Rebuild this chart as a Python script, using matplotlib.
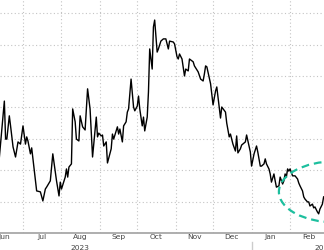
#!/usr/bin/env python3

import matplotlib
matplotlib.use('Agg')
import matplotlib.dates as mdates
import matplotlib.pyplot as plt
import matplotlib.transforms as transforms
import pandas as pd
from matplotlib.patches import Ellipse

START = pd.Timestamp('2023-06-12')

# trading days as offsets from START, with the traced level of the series
days = [0, 4, 5, 6, 8, 9, 11, 13, 15, 17, 19, 21, 22, 23, 25, 26, 28, 30, 33, 35,
        37, 38, 41, 43, 45, 46, 48, 49, 50, 53, 54, 55, 56, 58, 59, 61, 62, 64, 65, 67,
        69, 71, 73, 75, 78, 79, 80, 82, 83, 84, 86, 87, 90, 91, 92, 95, 96, 97, 99, 100,
        102, 103, 104, 106, 108, 109, 111, 112, 113, 115, 116, 117, 119, 120, 121, 123, 124, 125, 127, 128,
        130, 132, 134, 136, 137, 140, 141, 143, 144, 145, 147, 149, 150, 152, 153, 156, 157, 160, 162, 164,
        165, 166, 167, 170, 172, 174, 175, 178, 179, 182, 183, 185, 186, 188, 190, 191, 192, 194, 195, 198,
        199, 201, 202, 203, 205, 207, 208, 209, 210, 211, 213, 214, 215, 217, 218, 219, 221, 222, 223, 225,
        226, 228, 229, 230, 231, 232, 233, 234, 236, 237, 238, 240, 241, 242, 244, 245, 246, 248, 249, 250,
        252, 253, 254, 256, 257, 258, 260, 261]
values = [24.2, 42.0, 29.9, 29.9, 37.3, 34.1, 27.4, 24.2, 29.0, 28.3, 34.1, 28.3, 30.6, 29.3, 25.2, 27.1, 20.4, 13.4, 13.1, 10.2,
          14.0, 14.6, 16.6, 25.2, 19.4, 16.6, 11.8, 16.2, 14.0, 17.8, 20.4, 17.8, 21.0, 22.0, 39.5, 35.4, 29.9, 29.3, 37.3, 33.8,
          32.8, 45.9, 39.5, 24.2, 36.9, 30.6, 31.8, 30.9, 31.2, 27.7, 29.0, 22.3, 26.8, 31.5, 29.9, 33.8, 31.5, 33.1, 29.0, 34.1,
          35.4, 38.5, 39.5, 49.0, 40.1, 38.9, 40.4, 43.6, 39.5, 34.1, 36.9, 32.5, 36.9, 44.9, 58.6, 52.2, 65.6, 67.8, 57.6, 58.6,
          61.1, 61.8, 61.8, 58.6, 61.1, 60.8, 60.2, 56.1, 55.4, 57.0, 55.4, 50.0, 52.2, 51.6, 55.4, 54.5, 53.2, 51.3, 49.0, 48.4,
          50.6, 53.2, 52.9, 47.5, 40.8, 45.2, 46.5, 36.6, 40.1, 38.5, 35.0, 30.6, 31.5, 28.3, 26.1, 30.9, 25.5, 26.8, 28.0, 29.0,
          31.2, 27.7, 25.8, 21.3, 25.2, 27.7, 25.8, 23.6, 21.3, 21.3, 22.0, 23.6, 22.0, 20.4, 18.8, 16.2, 18.8, 16.6, 14.6, 15.0,
          17.8, 15.6, 16.6, 18.8, 17.8, 20.4, 19.7, 20.4, 18.2, 18.2, 18.2, 17.2, 15.9, 15.0, 13.4, 11.5, 10.8, 9.9, 9.9, 8.6,
          9.2, 8.0, 8.3, 6.7, 6.1, 7.6, 9.2, 11.5]

month_labels = ['Jun', 'Jul', 'Aug', 'Sep', 'Oct', 'Nov', 'Dec', 'Jan', 'Feb']
year_labels = [('2023', '2023-08-16'), ('2024', '2024-02-28')]

GRID = '#c4c4c4'
TEAL = '#1dbf9e'


def main():
    dates = START + pd.to_timedelta(days, unit='D')

    fig = plt.figure(figsize=(3.24, 2.51), dpi=100)
    ax = fig.add_axes([0, 17 / 251, 1, 234 / 251])

    ax.plot(dates, values, color='black', lw=1.0, zorder=3)

    # highlight around the latest dip
    cx = mdates.date2num(START + pd.Timedelta(days=270))
    ax.add_patch(Ellipse((cx, 13.1), width=90, height=19.4, fill=False,
                         edgecolor=TEAL, lw=1.6, linestyle=(0, (3.5, 2.2)),
                         zorder=4, clip_on=False))

    ax.set_xlim(mdates.date2num(START) + 0.5, mdates.date2num(START) + 261.3)
    ax.set_ylim(0, 74.5)

    ax.xaxis.set_major_locator(mdates.MonthLocator())
    ax.xaxis.set_major_formatter(plt.NullFormatter())
    mids = [mdates.date2num(pd.Timestamp(f'{y}-{m:02d}-16'))
            for y, m in [(2023, 6), (2023, 7), (2023, 8), (2023, 9), (2023, 10),
                         (2023, 11), (2023, 12), (2024, 1), (2024, 2)]]
    ax.set_xticks(mids, minor=True)
    ax.set_xticklabels(month_labels, minor=True)
    ax.tick_params(axis='x', which='both', length=0, pad=0.2,
                   labelsize=5.4, labelcolor='#444444')
    ax.set_yticks(range(10, 80, 10))
    ax.tick_params(axis='y', length=0, labelleft=False)

    ax.grid(True, which='major', color=GRID, lw=0.8, linestyle=(0, (1, 2.2)))

    for side in ['left', 'right', 'top']:
        ax.spines[side].set_visible(False)
    ax.spines['bottom'].set_color('#a8a8a8')
    ax.spines['bottom'].set_linewidth(1.3)

    trans = transforms.blended_transform_factory(ax.transData, fig.transFigure)
    for text, when in year_labels:
        ax.text(mdates.date2num(pd.Timestamp(when)), 0, text, transform=trans,
                ha='center', va='bottom', fontsize=5.4, color='#444444', clip_on=False)
    jan = mdates.date2num(pd.Timestamp('2024-01-01'))
    ax.plot([jan, jan], [1 / 251, 8 / 251], transform=trans, color='#cccccc',
            lw=1.0, clip_on=False)

    fig.savefig('out.png', dpi=100)


if __name__ == '__main__':
    main()
